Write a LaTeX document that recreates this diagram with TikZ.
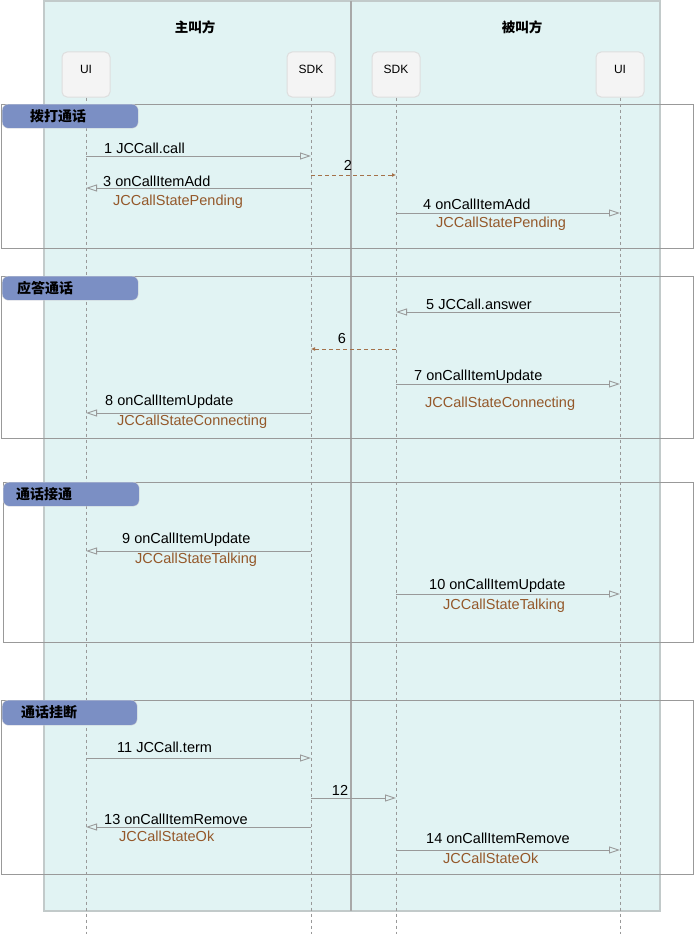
\documentclass[tikz,border=0pt]{standalone}
\usepackage{fontspec}
\setmainfont{Liberation Sans}
\newfontfamily\cjk{Noto Sans CJK SC}
\usetikzlibrary{arrows.meta}

\definecolor{lanefill}{HTML}{E1F3F3}
\definecolor{laneline}{HTML}{C2CACA}
\definecolor{lanemid}{HTML}{A8A8A8}
\definecolor{tabfill}{HTML}{7B8FC4}
\definecolor{statebrown}{HTML}{94582A}
\definecolor{msggray}{HTML}{999999}
\definecolor{boxfill}{HTML}{F4F4F4}

\tikzset{
  lane/.style={draw=laneline, line width=1.8pt, fill=lanefill},
  actor/.style={draw=black!13, line width=1pt, fill=boxfill, rounded corners=5pt,
    minimum width=48pt, minimum height=45pt, text height=8pt, text depth=10pt,
    font=\fontsize{12}{14}\selectfont},
  lifeline/.style={draw=msggray, line width=0.8pt, dash pattern=on 3pt off 3pt},
  frame/.style={draw=msggray, line width=0.9pt, anchor=north west, inner sep=0pt},
  tab/.style={draw=black!15, fill=tabfill, rounded corners=6pt, anchor=north west, inner sep=0pt},
  tabtext/.style={anchor=west, inner sep=0pt, font=\cjk\bfseries\fontsize{14}{16}\selectfont},
  title/.style={font=\cjk\bfseries\fontsize{13.5}{16}\selectfont},
  msg/.style={draw=msggray, line width=0.9pt, -{Triangle[open, length=11pt, width=7pt]}},
  reply/.style={draw=statebrown!85, line width=0.9pt, dash pattern=on 4pt off 3pt,
    -{Latex[length=4pt, width=4pt]}},
  lbl/.style={anchor=west, inner sep=0pt, font=\fontsize{14.5}{17}\selectfont},
  num/.style={inner sep=0pt, font=\fontsize{14.5}{17}\selectfont},
  state/.style={lbl, text=statebrown}
}

\begin{document}
\begin{tikzpicture}[x=1pt, y=-1pt]
  \useasboundingbox (0,0) rectangle (695,934);

  % swim lanes
  \draw[lane] (44,1) rectangle (351,911);
  \draw[lane] (351,1) rectangle (660,911);
  \draw[draw=lanemid, line width=1.5pt] (351,1) -- (351,911);
  \node[title] (callerTitle) at (195,27) {主叫方};
  \node[title] (calleeTitle) at (522,27) {被叫方};

  % participants
  \node[actor] (uiA) at (86,74.5) {UI};
  \node[actor] (sdkA) at (311,74.5) {SDK};
  \node[actor] (sdkB) at (396,74.5) {SDK};
  \node[actor] (uiB) at (620,74.5) {UI};

  % lifelines
  \coordinate (uiAend) at (uiA |- 0,934);
  \coordinate (sdkAend) at (sdkA |- 0,934);
  \coordinate (sdkBend) at (sdkB |- 0,934);
  \coordinate (uiBend) at (uiB |- 0,934);
  \draw[lifeline] (uiA.south) -- (uiAend);
  \draw[lifeline] (sdkA.south) -- (sdkAend);
  \draw[lifeline] (sdkB.south) -- (sdkBend);
  \draw[lifeline] (uiB.south) -- (uiBend);

  % fragments
  \node[frame, minimum width=692.5pt, minimum height=144pt] (fragDial) at (0.5,104) {};
  \node[frame, minimum width=692.5pt, minimum height=162pt] (fragAnswer) at (0.5,276) {};
  \node[frame, minimum width=690pt, minimum height=160pt] (fragTalk) at (3,482) {};
  \node[frame, minimum width=692pt, minimum height=174pt] (fragHangup) at (1,700) {};

  \node[tab, minimum width=136pt, minimum height=24pt] (tabDial) at (2,104) {};
  \node[tabtext] (tabDialText) at (30,116) {拨打通话};
  \node[tab, minimum width=136pt, minimum height=24pt] (tabAnswer) at (2,276) {};
  \node[tabtext] (tabAnswerText) at (17,288) {应答通话};
  \node[tab, minimum width=136pt, minimum height=24pt] (tabTalk) at (3,482) {};
  \node[tabtext] (tabTalkText) at (16,494) {通话接通};
  \node[tab, minimum width=135pt, minimum height=25pt] (tabHangup) at (2,700) {};
  \node[tabtext] (tabHangupText) at (21,712) {通话挂断};

  % dial
  \draw[msg] (uiA |- 0,156) -- (sdkA |- 0,156);
  \node[lbl] (m1) at (104,148) {1 JCCall.call};
  \draw[reply] (sdkA |- 0,175) -- (sdkB |- 0,175);
  \node[num] (m2) at (348,165) {2};
  \draw[msg] (sdkA |- 0,188) -- (uiA |- 0,188);
  \node[lbl] (m3) at (103,181) {3 onCallItemAdd};
  \node[state] (s3) at (113,202) {JCCallStatePending};
  \draw[msg] (sdkB |- 0,213) -- (uiB |- 0,213);
  \node[lbl] (m4) at (423,204) {4 onCallItemAdd};
  \node[state] (s4) at (436,224) {JCCallStatePending};

  % answer
  \draw[msg] (uiB |- 0,312) -- (sdkB |- 0,312);
  \node[lbl] (m5) at (426,304) {5 JCCall.answer};
  \draw[reply] (sdkB |- 0,349) -- (sdkA |- 0,349);
  \node[num] (m6) at (342,339) {6};
  \draw[msg] (sdkB |- 0,384) -- (uiB |- 0,384);
  \node[lbl] (m7) at (414,377) {7 onCallItemUpdate};
  \node[state] (s7) at (425,404) {JCCallStateConnecting};
  \draw[msg] (sdkA |- 0,413) -- (uiA |- 0,413);
  \node[lbl] (m8) at (105,402) {8 onCallItemUpdate};
  \node[state] (s8) at (117,422) {JCCallStateConnecting};

  % talk
  \draw[msg] (sdkA |- 0,551) -- (uiA |- 0,551);
  \node[lbl] (m9) at (122,540) {9 onCallItemUpdate};
  \node[state] (s9) at (135,560) {JCCallStateTalking};
  \draw[msg] (sdkB |- 0,594) -- (uiB |- 0,594);
  \node[lbl] (m10) at (429,586) {10 onCallItemUpdate};
  \node[state] (s10) at (443,606) {JCCallStateTalking};

  % hang up
  \draw[msg] (uiA |- 0,758) -- (sdkA |- 0,758);
  \node[lbl] (m11) at (117,747) {11 JCCall.term};
  \draw[msg] (sdkA |- 0,798) -- (sdkB |- 0,798);
  \node[num] (m12) at (340,790) {12};
  \draw[msg] (sdkA |- 0,827) -- (uiA |- 0,827);
  \node[lbl] (m13) at (104,819) {13 onCallItemRemove};
  \node[state] (s13) at (119,836) {JCCallStateOk};
  \draw[msg] (sdkB |- 0,850) -- (uiB |- 0,850);
  \node[lbl] (m14) at (426,838) {14 onCallItemRemove};
  \node[state] (s14) at (443,858) {JCCallStateOk};
\end{tikzpicture}
\end{document}
